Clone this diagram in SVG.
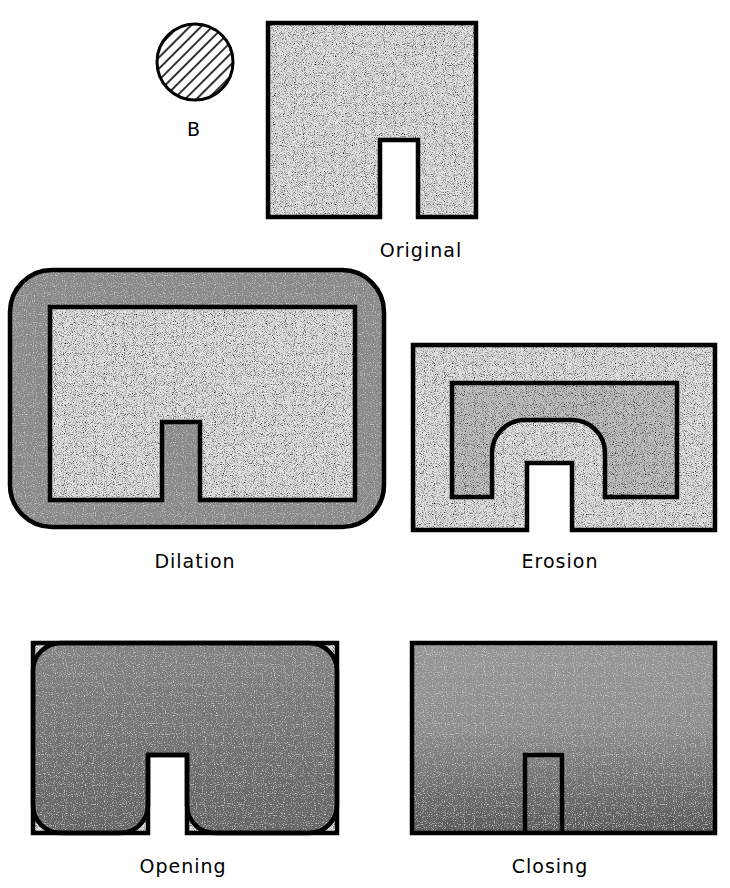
<svg xmlns="http://www.w3.org/2000/svg" width="730" height="888" viewBox="0 0 730 888">
<style>
.ol{fill:none;stroke:#000;stroke-width:4.5;stroke-linejoin:miter}
.lbl{font-family:"DejaVu Sans","Liberation Sans",sans-serif;font-size:19px;fill:#000;text-anchor:middle;letter-spacing:1px}
</style>
<defs>
<pattern id="hatch" width="8" height="8" patternUnits="userSpaceOnUse" patternTransform="rotate(45)">
<rect width="8" height="8" fill="#fff"/>
<line x1="1" y1="0" x2="1" y2="8" stroke="#000" stroke-width="1.6"/>
</pattern>
<linearGradient id="closeGrad" x1="0" y1="0" x2="0" y2="1">
<stop offset="0" stop-color="#b0b0b0"/>
<stop offset="0.45" stop-color="#a6a6a6"/>
<stop offset="1" stop-color="#6a6a6a"/>
</linearGradient>
<linearGradient id="openGrad" x1="0" y1="0" x2="0" y2="1">
<stop offset="0" stop-color="#9a9a9a"/>
<stop offset="1" stop-color="#767676"/>
</linearGradient>
<filter id="grainLight" x="0" y="0" width="100%" height="100%">
<feTurbulence type="fractalNoise" baseFrequency="1.1" numOctaves="1" seed="2" result="t"/>
<feColorMatrix in="t" type="matrix" values="0 0 0 0 0  0 0 0 0 0  0 0 0 0 0  3 0 0 0 -1.35" result="dots"/>
<feComposite in="dots" in2="SourceGraphic" operator="in" result="d"/>
<feMerge><feMergeNode in="SourceGraphic"/><feMergeNode in="d"/></feMerge>
</filter>
<filter id="grainDark" x="0" y="0" width="100%" height="100%">
<feTurbulence type="fractalNoise" baseFrequency="1.0" numOctaves="2" seed="7" result="t"/>
<feColorMatrix in="t" type="matrix" values="0 0 0 0 0  0 0 0 0 0  0 0 0 0 0  4 0 0 0 -1.7" result="dots"/>
<feComposite in="dots" in2="SourceGraphic" operator="in" result="d"/>
<feTurbulence type="fractalNoise" baseFrequency="0.9" numOctaves="1" seed="11" result="t2"/>
<feColorMatrix in="t2" type="matrix" values="0 0 0 0 1  0 0 0 0 1  0 0 0 0 1  3 0 0 0 -1.6" result="wd"/>
<feComposite in="wd" in2="SourceGraphic" operator="in" result="w"/>
<feMerge><feMergeNode in="SourceGraphic"/><feMergeNode in="w"/><feMergeNode in="d"/></feMerge>
</filter>
<clipPath id="bclip"><circle cx="195" cy="62" r="38"/></clipPath>
<path id="pOrig" d="M268,23 H476 V217 H418 V140 H380 V217 H268 Z"/>
<rect id="pDilOut" x="10" y="270" width="374" height="257" rx="42"/>
<path id="pDilIn" d="M50,307 H355 V500 H200 V422 H162 V500 H50 Z"/>
<path id="pEroOut" d="M413,345 H715 V530 H572 V463 H527 V530 H413 Z"/>
<path id="pEroIn" d="M452,383 H677 V497 H605 V453 A33,33 0 0 0 572,420 H525 A33,33 0 0 0 492,453 V497 H452 Z"/>
<path id="pOpOut" d="M33,643 H337 V833 H187 V755 H148 V833 H33 Z"/>
<path id="pOpIn" d="M61,643 H309 A28,28 0 0 1 337,671 V805 A28,28 0 0 1 309,833 H215 A28,28 0 0 1 187,805 V755 H148 V805 A28,28 0 0 1 120,833 H61 A28,28 0 0 1 33,805 V671 A28,28 0 0 1 61,643 Z"/>
<rect id="pClose" x="412" y="643" width="303" height="190"/>
</defs>

<g id="B">
<rect x="150" y="20" width="90" height="90" fill="url(#hatch)" clip-path="url(#bclip)"/>
<circle cx="195" cy="62" r="38" fill="none" stroke="#000" stroke-width="3"/>
<text class="lbl" x="194" y="136">B</text>
</g>

<g id="original">
<use href="#pOrig" fill="#e2e2e2" filter="url(#grainLight)"/>
<use href="#pOrig" class="ol"/>
<text class="lbl" x="421" y="257">Original</text>
</g>

<g id="dilation">
<use href="#pDilOut" fill="#a2a2a2" filter="url(#grainDark)"/>
<use href="#pDilIn" fill="#e2e2e2" filter="url(#grainLight)"/>
<use href="#pDilOut" class="ol"/>
<use href="#pDilIn" class="ol"/>
<text class="lbl" x="195" y="568">Dilation</text>
</g>

<g id="erosion">
<use href="#pEroOut" fill="#e2e2e2" filter="url(#grainLight)"/>
<use href="#pEroIn" fill="#c2c2c2" filter="url(#grainLight)"/>
<use href="#pEroOut" class="ol"/>
<use href="#pEroIn" class="ol"/>
<text class="lbl" x="560" y="568">Erosion</text>
</g>

<g id="opening">
<use href="#pOpOut" fill="#e2e2e2" filter="url(#grainLight)"/>
<use href="#pOpIn" fill="url(#openGrad)" filter="url(#grainDark)"/>
<use href="#pOpOut" class="ol"/>
<use href="#pOpIn" class="ol"/>
<text class="lbl" x="183" y="873">Opening</text>
</g>

<g id="closing">
<use href="#pClose" fill="url(#closeGrad)" filter="url(#grainDark)"/>
<use href="#pClose" class="ol"/>
<path class="ol" d="M525,833 V755 H562 V833"/>
<text class="lbl" x="550" y="873">Closing</text>
</g>
</svg>
